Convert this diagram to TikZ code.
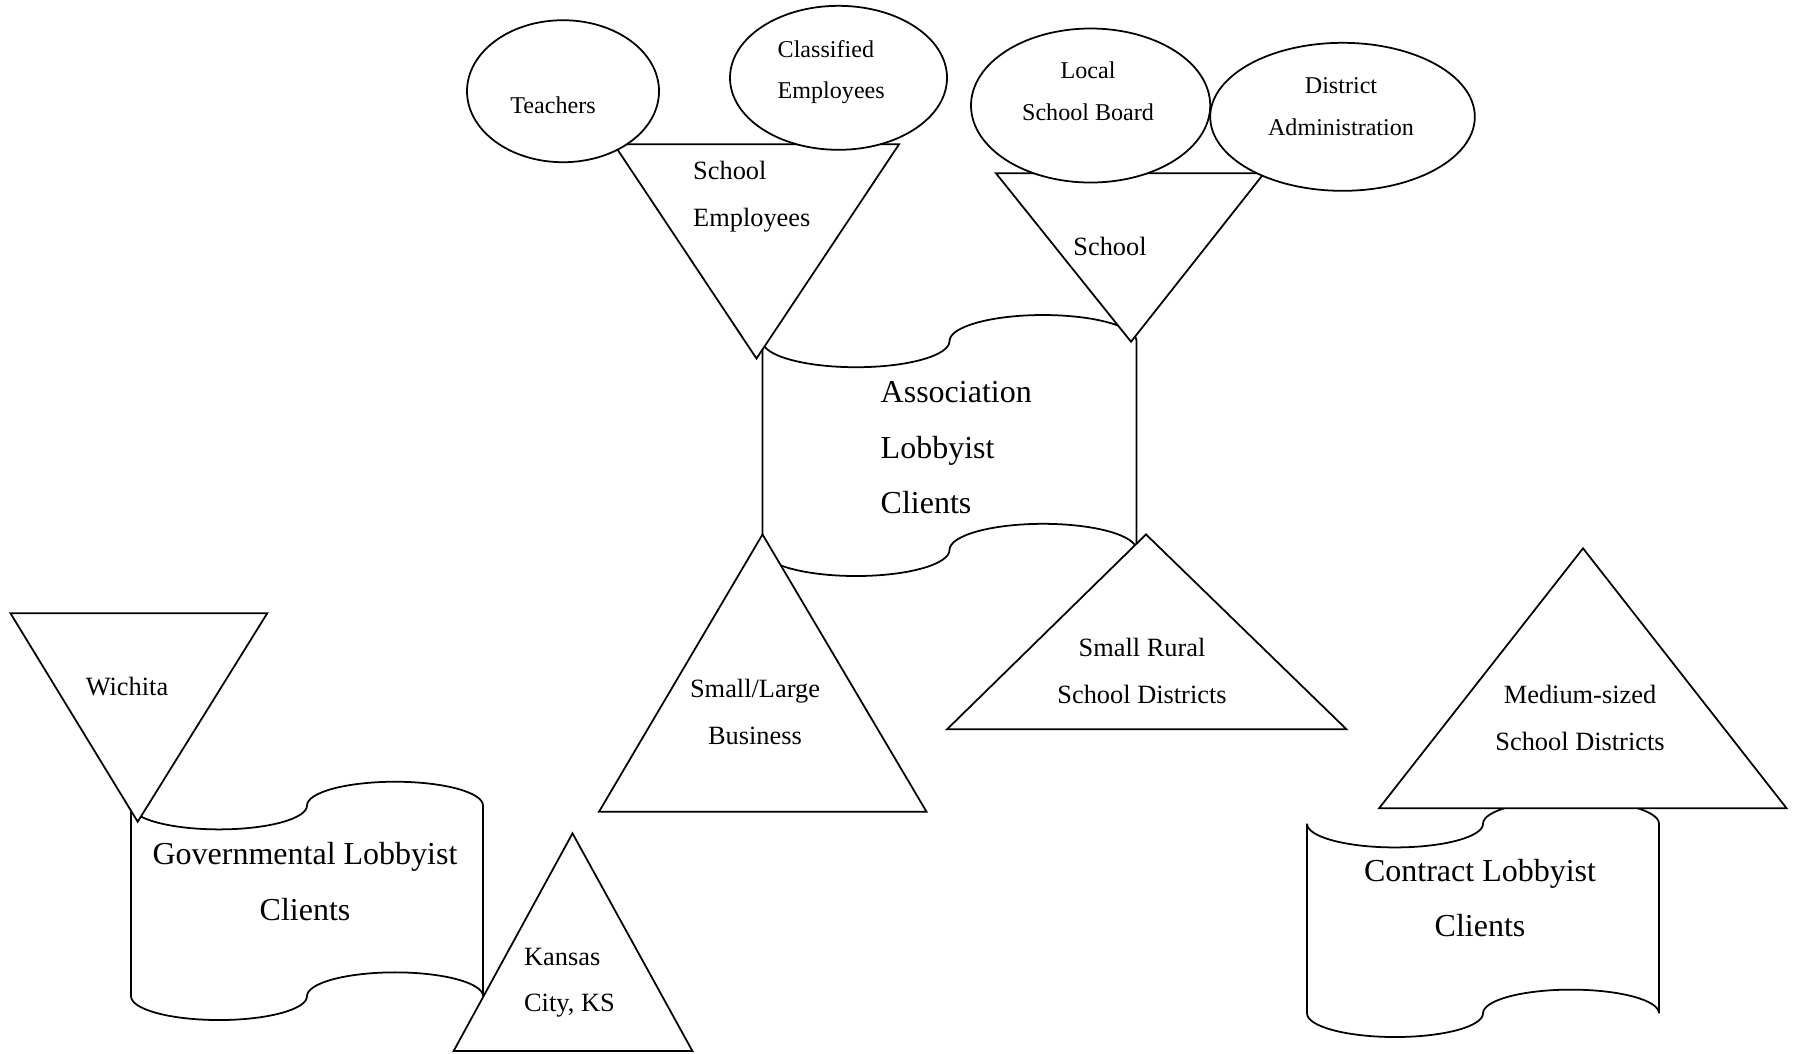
\documentclass[tikz,border=0pt]{standalone}
\usepackage{fontspec}
\setmainfont{Liberation Serif}
\usepackage{tikz}

% punched tape: x, y (top left), width, height
\newcommand{\tapeshape}[4]{%
  \draw[shp] (#1,#2+0.1*#4)
    arc[start angle=180, end angle=0, x radius=#3/4, y radius=0.1*#4]
    arc[start angle=180, end angle=360, x radius=#3/4, y radius=0.1*#4]
    -- (#1+#3,#2+0.9*#4)
    arc[start angle=360, end angle=180, x radius=#3/4, y radius=0.1*#4]
    arc[start angle=0, end angle=180, x radius=#3/4, y radius=0.1*#4]
    -- cycle;}

\tikzset{
  shp/.style={draw, fill=white, line width=0.5pt},
  bigtxt/.style={font=\fontsize{9.1}{15.7}\selectfont, inner sep=0pt},
  midtxt/.style={font=\fontsize{7.5}{13.1}\selectfont, inner sep=0pt},
  smltxt/.style={font=\fontsize{6.85}{11.8}\selectfont, inner sep=0pt}
}

\begin{document}
\begin{tikzpicture}[x=0.01cm, y=-0.01cm]
\useasboundingbox (0,0) rectangle (1798,1053);

\tapeshape{762.5}{315}{374}{261}
\tapeshape{131}{781.7}{352}{238.3}
\tapeshape{1307}{800}{352}{237}

\draw[shp] (614,144.3) -- (899,144.3) -- (756.5,358.5) -- cycle;
\draw[shp] (996,173.3) -- (1264,173.3) -- (1131,341.7) -- cycle;
\draw[shp] (599,811.7) -- (926.5,811.7) -- (762.5,534.4) -- cycle;
\draw[shp] (947,729.3) -- (1346.5,729.3) -- (1146,534.4) -- cycle;
\draw[shp] (1379,808.3) -- (1786.6,808.3) -- (1583,548.3) -- cycle;
\draw[shp] (10.5,613.3) -- (267.2,613.3) -- (137.7,821.7) -- cycle;
\draw[shp] (453.6,1051) -- (692.4,1051) -- (572.5,833.3) -- cycle;

\draw[shp] (563,91.2) ellipse [x radius=96, y radius=71];
\draw[shp] (838.5,77.8) ellipse [x radius=108.5, y radius=72];
\draw[shp] (1090.6,105.5) ellipse [x radius=119.6, y radius=77];
\draw[shp] (1342.5,116.8) ellipse [x radius=132.3, y radius=74];

% base anchor = baseline of the last line
\node[smltxt, anchor=base] (teach) at (553,113) {Teachers};
\node[smltxt, anchor=base west, align=left] (clemp) at (777,98.5) {Classified\\Employees};
\node[smltxt, anchor=base, align=center] (lsb) at (1088,120) {Local\\School Board};
\node[smltxt, anchor=base, align=center] (dadm) at (1341,135) {District\\Administration};

\node[midtxt, anchor=base west, align=left] (schemp) at (692.5,226) {School\\Employees};
\node[midtxt, anchor=base] (school) at (1110,255) {School};
\node[midtxt, anchor=base, align=center] (smlbus) at (755,744) {Small/Large\\Business};
\node[midtxt, anchor=base, align=center] (rural) at (1142,703) {Small Rural\\School Districts};
\node[midtxt, anchor=base, align=center] (medium) at (1580,750) {Medium-sized\\School Districts};
\node[midtxt, anchor=base] (wichita) at (127,695) {Wichita};
\node[midtxt, anchor=base west, align=left] (kansas) at (523.4,1011.7) {Kansas\\City, KS};

\node[bigtxt, anchor=base west, align=left] (assoc) at (880,513.3) {Association\\Lobbyist\\Clients};
\node[bigtxt, anchor=base, align=center] (govt) at (305,920) {Governmental Lobbyist\\Clients};
\node[bigtxt, anchor=base, align=center] (contract) at (1480,936.7) {Contract Lobbyist\\Clients};

\end{tikzpicture}
\end{document}
